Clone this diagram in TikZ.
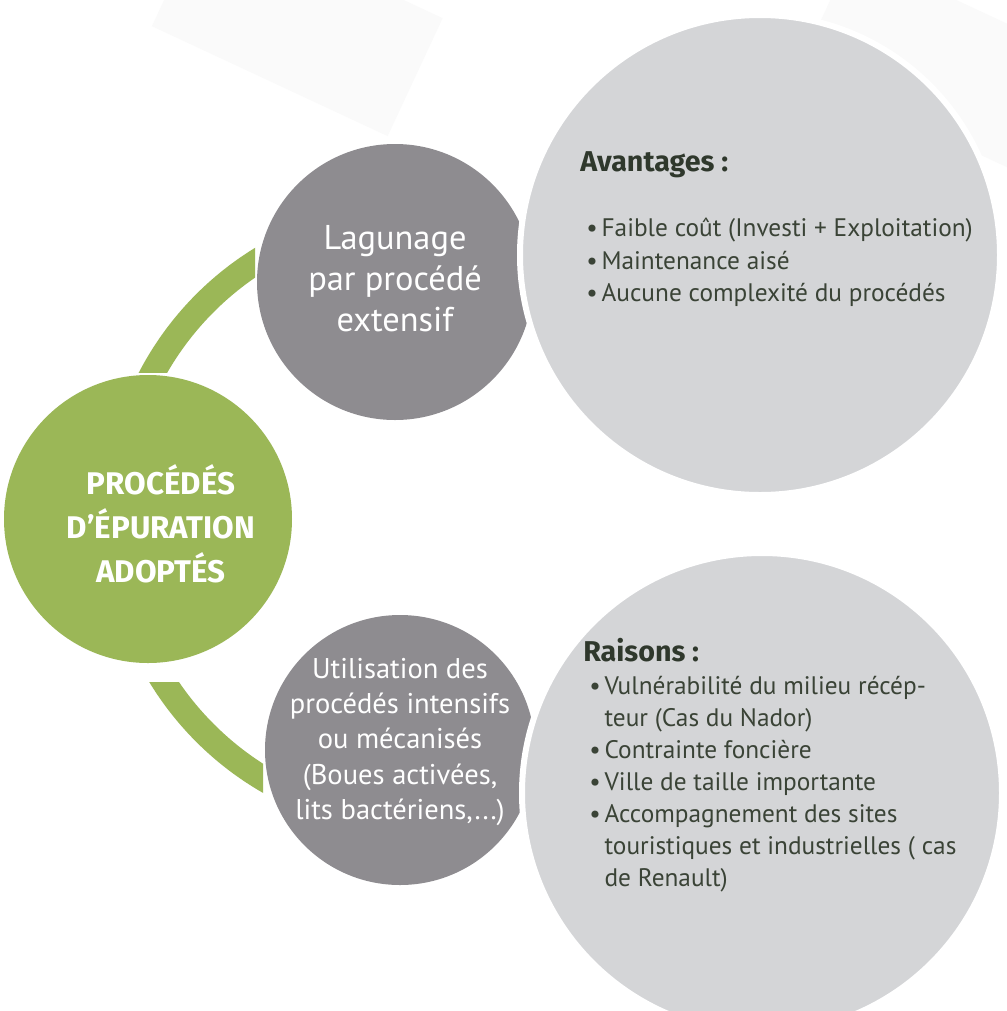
\documentclass[tikz,border=0pt]{standalone}
\usepackage{fontspec}
\setmainfont{PT Sans}
\newfontfamily\headfont{Fira Sans}
\definecolor{epgreen}{HTML}{9BB757}
\definecolor{epdark}{HTML}{8E8C90}
\definecolor{eplight}{HTML}{D4D5D7}
\definecolor{eptext}{HTML}{3A4336}
\definecolor{ephead}{HTML}{2F382C}
\definecolor{epback}{HTML}{FAFAFA}
\newcommand\itm{\makebox[11.5pt][l]{•}}
\begin{document}
\begin{tikzpicture}[x=0.75pt,y=-0.75pt,line join=round,
	ring/.style={draw=epgreen,line width=18.75pt},
	bubble/.style={circle,inner sep=0pt,text=white,align=center},
	bigbub/.style={circle,inner sep=0pt,fill=eplight,draw=white,line width=4.5pt,minimum size=360pt},
	head/.style={inner sep=0pt,text=ephead,font=\headfont\bfseries\fontsize{21.5}{24}\selectfont},
	list/.style={inner sep=0pt,text=eptext,align=left,font=\fontsize{19}{24.4}\selectfont}]
				\def\px{0.75pt}
				\useasboundingbox (0,0) rectangle (1007,1011);
				\fill[white] (0,0) rectangle (1007,1011);
				\fill[epback,rotate around={-25:(300,40)}] (160,-40) rectangle (420,90);
				\fill[epback,rotate around={-25:(900,40)}] (820,-20) rectangle (1060,110);
				\coordinate (ringc) at (420,518);
				\begin{scope}
					\clip (0,0) rectangle (255,372);
					\draw[ring] (ringc) circle[radius=304];
				\end{scope}
				\begin{scope}
					\clip (0,682) rectangle (263,1011);
					\draw[ring] (ringc) circle[radius=304];
				\end{scope}
				\node[bubble,fill=epgreen,minimum size=288*\px] (green) at (148,519) {};
				\node[inner sep=0pt,text=white,align=center,font=\headfont\bfseries\fontsize{23.5}{33}\selectfont] (title) at ([xshift=13*\px,yshift=-5*\px]green.center) {PROCÉDÉS\\D’ÉPURATION\\ADOPTÉS};
				\node[bubble,fill=epdark,minimum size=276*\px] (lag) at (395,282) {};
				\node[inner sep=0pt,text=white,align=center,font=\fontsize{25.8}{30.75}\selectfont] (lagt) at ([yshift=3*\px]lag.center) {Lagunage\\par procédé\\extensif};
				\node[bubble,fill=epdark,minimum size=270*\px] (meca) at (400,750) {};
				\node[inner sep=0pt,text=white,align=center,font=\fontsize{21.4}{26.5}\selectfont] (mecat) at ([yshift=8*\px]meca.center) {Utilisation des\\procédés intensifs\\ou mécanisés\\(Boues activées,\\lits bactériens,...)};
				\node[bigbub] (avant) at (760,255) {};
				\node[bigbub] (rais) at (762,793) {};
				\node[head,anchor=base west] (avh) at (580,171) {Avantages :};
				\node[list,anchor=north west] (avl) at (586,218) {\itm Faible coût (Investi + Exploitation)\\\itm Maintenance aisé\\\itm Aucune complexité du procédés};
				\node[head,anchor=base west] (raih) at (583,661) {Raisons :};
				\node[list,anchor=north west,font=\fontsize{19}{24}\selectfont] (rail) at (589,676) {\itm Vulnérabilité du milieu récép-\\\hspace*{11.5pt}teur (Cas du Nador)\\\itm Contrainte foncière\\\itm Ville de taille importante\\\itm Accompagnement des sites\\\hspace*{11.5pt}touristiques et industrielles ( cas\\\hspace*{11.5pt}de Renault)};
			\end{tikzpicture}
\end{document}
